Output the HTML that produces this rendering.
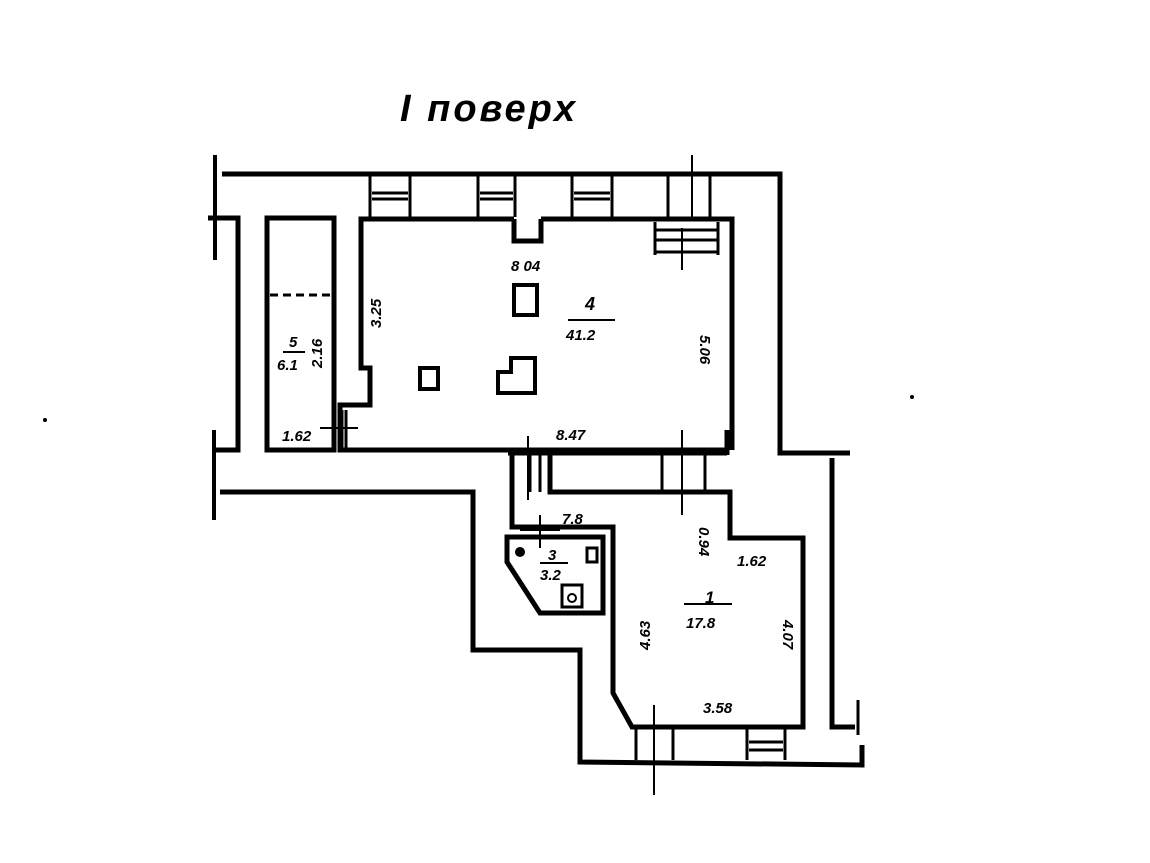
<!DOCTYPE html>
<html><head><meta charset="utf-8"><style>
html,body{margin:0;padding:0;background:#fff;width:1150px;height:863px;overflow:hidden}
svg{display:block}
text{font-family:"Liberation Sans",sans-serif;font-style:italic;fill:#000}
</style></head><body>
<svg width="1150" height="863" viewBox="0 0 1150 863" xmlns="http://www.w3.org/2000/svg">
<g fill="none" stroke="#000" stroke-width="5" stroke-linejoin="miter">
<polyline points="222,174 780,174 780,453 850,453"/>
<polyline points="832,458 832,727 855,727"/>
<line x1="858" y1="700" x2="858" y2="735" stroke-width="3"/>
<polyline points="862,745 862,765 580,762 580,650 473,650 473,492 220,492" />
<line x1="215" y1="155" x2="215" y2="260" stroke-width="4"/>
<polyline points="208,218 238,218 238,450 215,450"/>
<line x1="214" y1="430" x2="214" y2="520" stroke-width="4"/>
<rect x="267" y="218" width="67" height="232"/>
<polyline points="514,219 361,219 361,368 370,368 370,405 340,405 340,450 727,450"/>
<polyline points="541,219 732,219 732,450"/>
<polyline points="514,219 514,241 541,241 541,219"/>
<polyline points="508,453 727,453"/>
<line x1="727" y1="430" x2="727" y2="455"/>
<polyline points="512,453 512,527 613,527 613,693 632,727 803,727 803,538 730,538 730,492 550,492 550,453"/>
<polygon points="507,537 603,537 603,613 540,613 507,562"/>
</g>
<g fill="none" stroke="#000" stroke-width="3">
<line x1="370" y1="176" x2="370" y2="217"/><line x1="410" y1="176" x2="410" y2="217"/>
<line x1="372" y1="193" x2="408" y2="193"/><line x1="372" y1="199" x2="408" y2="199"/>
<line x1="478" y1="176" x2="478" y2="217"/><line x1="515" y1="176" x2="515" y2="217"/>
<line x1="480" y1="193" x2="513" y2="193"/><line x1="480" y1="199" x2="513" y2="199"/>
<line x1="572" y1="176" x2="572" y2="217"/><line x1="612" y1="176" x2="612" y2="217"/>
<line x1="574" y1="193" x2="610" y2="193"/><line x1="574" y1="199" x2="610" y2="199"/>
<line x1="668" y1="176" x2="668" y2="217"/><line x1="710" y1="176" x2="710" y2="217"/>
<line x1="692" y1="155" x2="692" y2="217" stroke-width="2"/>
<line x1="655" y1="222" x2="655" y2="255"/><line x1="655" y1="230" x2="718" y2="230"/>
<line x1="655" y1="240" x2="718" y2="240"/><line x1="655" y1="252" x2="718" y2="252"/>
<line x1="718" y1="222" x2="718" y2="255"/>
<line x1="682" y1="228" x2="682" y2="270" stroke-width="2"/>
<line x1="270" y1="295" x2="330" y2="295" stroke-dasharray="8,5"/>
<line x1="342" y1="410" x2="342" y2="450"/><line x1="346" y1="410" x2="346" y2="450"/>
<line x1="320" y1="428" x2="358" y2="428" stroke-width="2"/>
<line x1="528" y1="436" x2="528" y2="500" stroke-width="2"/>
<line x1="530" y1="455" x2="530" y2="492"/><line x1="540" y1="455" x2="540" y2="492"/>
<line x1="662" y1="453" x2="662" y2="492"/><line x1="705" y1="453" x2="705" y2="492"/>
<line x1="682" y1="430" x2="682" y2="515" stroke-width="2"/>
<line x1="540" y1="515" x2="540" y2="548" stroke-width="2"/>
<line x1="520" y1="530" x2="560" y2="530" stroke-width="2"/>
<line x1="636" y1="729" x2="636" y2="760"/><line x1="673" y1="729" x2="673" y2="760"/>
<line x1="654" y1="705" x2="654" y2="795" stroke-width="2"/>
<line x1="747" y1="729" x2="747" y2="760"/><line x1="785" y1="729" x2="785" y2="760"/>
<line x1="749" y1="742" x2="783" y2="742"/><line x1="749" y1="750" x2="783" y2="750"/>
<line x1="568" y1="320" x2="615" y2="320" stroke-width="2"/>
<line x1="283" y1="352" x2="305" y2="352" stroke-width="2"/>
<line x1="684" y1="604" x2="732" y2="604" stroke-width="2"/>
<line x1="540" y1="563" x2="568" y2="563" stroke-width="2"/>
</g>
<g fill="none" stroke="#000" stroke-width="4">
<rect x="514" y="285" width="23" height="30"/>
<rect x="420" y="368" width="18" height="21"/>
<polygon points="511,358 535,358 535,393 498,393 498,372 511,372"/>
<rect x="587" y="548" width="10" height="14" stroke-width="3"/>
<rect x="562" y="585" width="20" height="22" stroke-width="3"/>
</g>
<circle cx="520" cy="552" r="5" fill="#000"/>
<circle cx="572" cy="598" r="4" fill="none" stroke="#000" stroke-width="2"/>
<circle cx="45" cy="420" r="2" fill="#000"/>
<circle cx="912" cy="397" r="2" fill="#000"/>
<text x="400" y="121" font-size="38" font-weight="bold" letter-spacing="3">I поверх</text>
<g font-size="15" font-weight="bold">
<text x="511" y="271">8 04</text>
<text x="585" y="310" font-size="18">4</text>
<text x="566" y="340">41.2</text>
<text x="289" y="347">5</text>
<text x="277" y="370">6.1</text>
<text x="282" y="441">1.62</text>
<text x="556" y="440">8.47</text>
<text x="562" y="524">7.8</text>
<text x="548" y="560">3</text>
<text x="540" y="580">3.2</text>
<text x="737" y="566">1.62</text>
<text x="705" y="603" font-size="17">1</text>
<text x="686" y="628">17.8</text>
<text x="703" y="713">3.58</text>
<text transform="translate(381,328) rotate(-90)">3.25</text>
<text transform="translate(322,368) rotate(-90)">2.16</text>
<text transform="translate(700,335) rotate(90)">5.06</text>
<text transform="translate(699,527) rotate(90)">0.94</text>
<text transform="translate(783,620) rotate(90)">4.07</text>
<text transform="translate(650,650) rotate(-90)">4.63</text>
</g>
</svg>
</body></html>
